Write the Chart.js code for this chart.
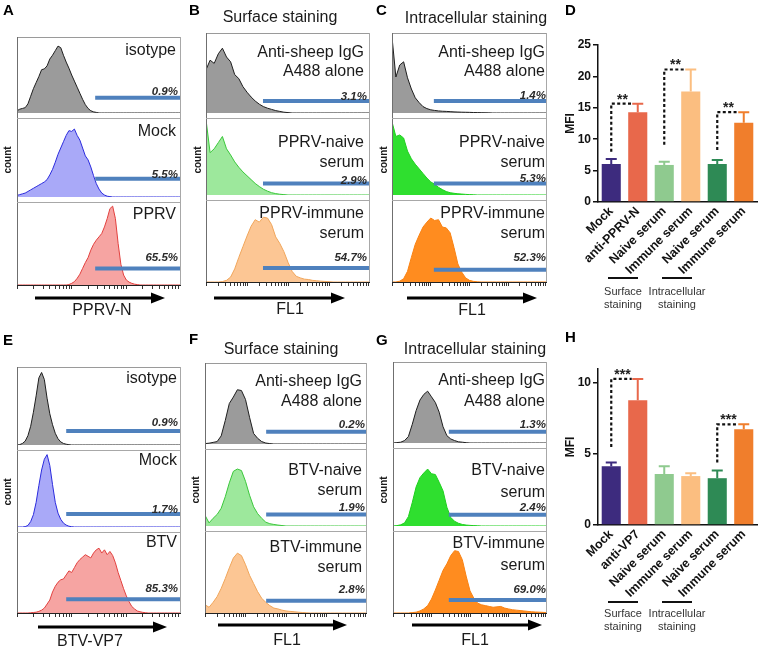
<!DOCTYPE html>
<html>
<head>
<meta charset="utf-8">
<title>Flow cytometry histograms and MFI</title>
<script src="https://cdn.jsdelivr.net/npm/chart.js@4.4.1/dist/chart.umd.min.js"></script>
<style>
html,body{margin:0;padding:0;background:#fff;}
body{width:767px;height:647px;position:relative;overflow:hidden;font-family:"Liberation Sans",Arial,Helvetica,sans-serif;color:#1b1b1b;}
canvas{position:absolute;display:block;}
.t{position:absolute;white-space:nowrap;line-height:1;}
.ln{position:absolute;}
svg{position:absolute;left:0;top:0;}
</style>
</head>
<body>
<svg id="arrows" width="767" height="647"></svg>
<script>
// ===================== DATA =====================
// histogram bin positions (in decades of fluorescence)
const binsA = [0,0.05,0.1,0.15,0.2,0.25,0.3,0.35,0.4,0.45,0.5,0.55,0.6,0.65,0.7,0.75,0.8,0.85,0.9,0.95,1,1.05,1.1,1.15,1.2,1.25,1.3,1.35,1.4,1.45,1.5,1.55,1.6,1.65,1.7,1.75,1.8,1.85,1.9,1.95,2,2.05,2.1,2.15,2.2,2.25,2.3,2.35,2.4,2.45,2.5,2.55,2.6,2.65,2.7,2.75,2.8,2.85,2.9,2.95,3];
const binsB = [0,0.1,0.2,0.3,0.4,0.5,0.6,0.7,0.8,0.9,1,1.1,1.2,1.3,1.4,1.5,1.6,1.7,1.8,1.9,2,2.1,2.2,2.3,2.4,2.5,2.6,2.7,2.8,2.9,3,3.1,3.2,3.3,3.4,3.5,3.6,3.7,3.8,3.9,4];

// relative counts (fraction of the sub-panel height)
const histA_isotype = [0.03,0.05,0.06,0.07,0.12,0.22,0.32,0.40,0.48,0.57,0.58,0.62,0.71,0.76,0.82,0.88,0.86,0.76,0.67,0.59,0.50,0.42,0.34,0.26,0.18,0.11,0.06,0.03,0.015,0.008,0,0,0,0,0,0,0,0,0,0,0,0,0,0,0,0,0,0,0,0,0,0,0,0,0,0,0,0,0,0,0];
const histA_mock = [0.02,0.03,0.04,0.05,0.07,0.09,0.11,0.13,0.15,0.17,0.19,0.22,0.28,0.35,0.44,0.54,0.62,0.70,0.78,0.84,0.83,0.86,0.78,0.72,0.62,0.52,0.47,0.38,0.27,0.17,0.10,0.05,0.025,0.01,0.005,0,0,0,0,0,0,0,0,0,0,0,0,0,0,0,0,0,0,0,0,0,0,0,0,0,0];
const histA_pprv = [0,0,0,0,0,0,0,0,0,0,0,0,0,0,0,0,0,0,0,0.005,0.02,0.04,0.08,0.13,0.20,0.27,0.33,0.42,0.49,0.54,0.58,0.62,0.70,0.80,0.92,0.95,0.80,0.50,0.25,0.12,0.06,0.035,0.02,0.01,0.005,0,0,0,0,0,0,0,0,0,0,0,0,0,0,0,0];
const histE_isotype = [0,0.005,0.02,0.05,0.12,0.24,0.42,0.63,0.86,0.93,0.84,0.60,0.40,0.26,0.15,0.08,0.04,0.02,0.01,0.004,0,0,0,0,0,0,0,0,0,0,0,0,0,0,0,0,0,0,0,0,0,0,0,0,0,0,0,0,0,0,0,0,0,0,0,0,0,0,0,0,0];
const histE_mock = [0,0,0,0.005,0.02,0.07,0.16,0.32,0.54,0.74,0.88,0.94,0.80,0.55,0.32,0.18,0.10,0.05,0.025,0.01,0.004,0,0,0,0,0,0,0,0,0,0,0,0,0,0,0,0,0,0,0,0,0,0,0,0,0,0,0,0,0,0,0,0,0,0,0,0,0,0,0,0];
const histE_btv = [0,0,0,0,0,0.003,0.006,0.01,0.02,0.035,0.06,0.11,0.16,0.26,0.33,0.38,0.41,0.42,0.47,0.52,0.50,0.56,0.62,0.66,0.69,0.72,0.70,0.68,0.74,0.78,0.80,0.74,0.78,0.72,0.76,0.71,0.62,0.50,0.40,0.30,0.21,0.14,0.08,0.05,0.025,0.015,0.008,0.004,0,0,0,0,0,0,0,0,0,0,0,0,0];

const histB_alone = [0.54,0.66,0.62,0.74,0.81,0.70,0.64,0.48,0.43,0.33,0.26,0.20,0.15,0.11,0.08,0.06,0.045,0.03,0.02,0.01,0.005,0,0,0,0,0,0,0,0,0,0,0,0,0,0,0,0,0,0,0,0];
const histB_naive = [0.98,0.55,0.60,0.68,0.76,0.60,0.52,0.43,0.36,0.30,0.25,0.20,0.15,0.11,0.075,0.05,0.03,0.018,0.01,0.005,0,0,0,0,0,0,0,0,0,0,0,0,0,0,0,0,0,0,0,0,0];
const histB_immune = [0,0,0,0,0.005,0.02,0.06,0.16,0.30,0.43,0.56,0.68,0.76,0.73,0.79,0.78,0.70,0.55,0.47,0.37,0.24,0.13,0.07,0.05,0.035,0.03,0.02,0.015,0.01,0.007,0.004,0,0,0,0,0,0,0,0,0,0];
const histC_alone = [0.95,0.45,0.60,0.64,0.44,0.30,0.19,0.13,0.08,0.055,0.04,0.032,0.026,0.022,0.02,0.017,0.014,0.012,0.01,0.009,0.008,0.006,0.005,0.004,0.003,0.002,0,0,0,0,0,0,0,0,0,0,0,0,0,0,0];
const histC_naive = [0.95,0.76,0.78,0.74,0.57,0.47,0.40,0.34,0.28,0.22,0.17,0.14,0.10,0.07,0.045,0.03,0.022,0.016,0.012,0.008,0.005,0.003,0,0,0,0,0,0,0,0,0,0,0,0,0,0,0,0,0,0,0];
const histC_immune = [0,0,0.01,0.04,0.13,0.30,0.46,0.57,0.67,0.73,0.78,0.75,0.76,0.67,0.66,0.60,0.42,0.22,0.12,0.05,0.02,0.008,0.003,0,0,0,0,0,0,0,0,0,0,0,0,0,0,0,0,0,0];
const histF_alone = [0.005,0.01,0.02,0.03,0.10,0.29,0.50,0.58,0.67,0.66,0.55,0.33,0.13,0.07,0.03,0.012,0.005,0,0,0,0,0,0,0,0,0,0,0,0,0,0,0,0,0,0,0,0,0,0,0,0];
const histF_naive = [0.14,0.04,0.10,0.15,0.23,0.38,0.56,0.71,0.74,0.72,0.58,0.40,0.25,0.16,0.10,0.05,0.03,0.02,0.012,0.006,0,0,0,0,0,0,0,0,0,0,0,0,0,0,0,0,0,0,0,0,0];
const histF_immune = [0.10,0.07,0.13,0.20,0.30,0.42,0.55,0.67,0.73,0.70,0.59,0.46,0.36,0.26,0.18,0.13,0.09,0.06,0.05,0.035,0.025,0.02,0.015,0.01,0.006,0.003,0,0,0,0,0,0,0,0,0,0,0,0,0,0,0];
const histG_alone = [0,0.005,0.01,0.03,0.08,0.23,0.40,0.53,0.60,0.64,0.57,0.50,0.38,0.20,0.09,0.05,0.03,0.015,0.01,0.004,0,0,0,0,0,0,0,0,0,0,0,0,0,0,0,0,0,0,0,0,0];
const histG_naive = [0,0.005,0.015,0.04,0.12,0.30,0.50,0.62,0.68,0.73,0.67,0.66,0.56,0.45,0.24,0.11,0.06,0.035,0.02,0.012,0.008,0.005,0.003,0,0,0,0,0,0,0,0,0,0,0,0,0,0,0,0,0,0];
const histG_immune = [0,0,0,0,0,0.005,0.01,0.025,0.05,0.09,0.17,0.28,0.40,0.52,0.60,0.70,0.76,0.75,0.65,0.45,0.27,0.18,0.12,0.10,0.09,0.08,0.07,0.075,0.08,0.06,0.05,0.04,0.035,0.03,0.025,0.02,0.015,0.012,0.01,0.008,0.005];

// sample names, gate percentages, gate start (decades) and gate level
const samplesA = ['isotype', 'Mock', 'PPRV'];
const samplesB = ['Anti-sheep IgG\nA488 alone', 'PPRV-naive\nserum', 'PPRV-immune\nserum'];
const samplesE = ['isotype', 'Mock', 'BTV'];
const samplesF = ['Anti-sheep IgG\nA488 alone', 'BTV-naive\nserum', 'BTV-immune\nserum'];
const pctA = ['0.9%', '5.5%', '65.5%'];
const pctB = ['3.1%', '2.9%', '54.7%'];
const pctC = ['1.4%', '5.3%', '52.3%'];
const pctE = ['0.9%', '1.7%', '85.3%'];
const pctF = ['0.2%', '1.9%', '2.8%'];
const pctG = ['1.3%', '2.4%', '69.0%'];
const gateStart = {A: 1.43, B: 1.39, C: 1.08, E: 0.90, F: 1.51, G: 1.45};
const gateLevelA = [0.20, 0.23, 0.20];
const gateLevelB = [0.15, 0.15, 0.17];
const gateLevelC = [0.15, 0.15, 0.15];
const gateLevelE = [0.18, 0.17, 0.17];
const gateLevelF = [0.15, 0.15, 0.15];
const gateLevelG = [0.14, 0.145, 0.16];

// MFI bar charts
const barLabelsD = ['Mock', 'anti-PPRV-N', 'Naive serum', 'Immune serum', 'Naive serum', 'Immune serum'];
const mfiD = [6.05, 14.3, 5.9, 17.6, 6.05, 12.6];
const errD = [0.8, 1.35, 0.5, 3.5, 0.65, 1.7];
const sigFromD = [0, 2, 4];
const sigToD = [1, 3, 5];
const sigLowD = [8.0, 9.1, 8.3];
const sigHighD = [15.65, 21.1, 14.3];
const sigTextD = ['**', '**', '**'];

const barLabelsH = ['Mock', 'anti-VP7', 'Naive serum', 'Immune serum', 'Naive serum', 'Immune serum'];
const mfiH = [4.15, 8.8, 3.6, 3.45, 3.3, 6.75];
const errH = [0.25, 1.5, 0.55, 0.2, 0.55, 0.35];
const sigFromH = [0, 4];
const sigToH = [1, 5];
const sigLowH = [5.5, 4.4];
const sigHighH = [10.3, 7.1];
const sigTextH = ['***', '***'];

const yTicksMaxD = 25;
const yTicksMaxH = 11;

// ===================== STYLE =====================
const FONT = '"Liberation Sans", Arial, Helvetica, sans-serif';
Chart.defaults.font.family = FONT;
const GATE = '#4f81bd';
const C_GREY = ['rgba(155,155,155,1)', '#1e1e1e'];
const C_BLUE = ['#a9a9f8', '#2b2bdd'];
const C_RED = ['#f6a4a2', '#e2403e'];
const C_LGREEN = ['#9de89c', '#3ac73a'];
const C_LORANGE = ['#fcc694', '#f0a55a'];
const C_GREEN = ['#2fdf2f', '#1fcf1f'];
const C_ORANGE = ['#ff8c1f', '#f98213'];
const BAR_COLORS = ['#3d2b7e', '#e8684b', '#8fca8f', '#fbbe80', '#2e8a55', '#f07e2c'];

// ===================== HELPERS =====================
function txt(s, x, y, o = {}) {
  const d = document.createElement('div');
  d.className = 't';
  d.textContent = s;
  const st = d.style;
  st.left = x + 'px';
  st.top = y + 'px';
  st.fontSize = (o.size || 16) + 'px';
  if (o.bold) st.fontWeight = 'bold';
  if (o.italic) st.fontStyle = 'italic';
  st.color = o.color || '#1b1b1b';
  const tx = o.align === 'right' ? '-100%' : (o.align === 'left' ? '0' : '-50%');
  st.transform = 'translate(' + tx + ',-50%)' + (o.rot ? ' rotate(' + o.rot + 'deg)' : '');
  document.body.appendChild(d);
}
function rect(x, y, w, h, color) {
  const d = document.createElement('div');
  d.className = 'ln';
  d.style.left = x + 'px'; d.style.top = y + 'px';
  d.style.width = w + 'px'; d.style.height = h + 'px';
  d.style.background = color;
  document.body.appendChild(d);
}
function canvas(x, y, w, h) {
  const c = document.createElement('canvas');
  c.width = w; c.height = h;
  c.style.left = x + 'px'; c.style.top = y + 'px';
  c.style.width = w + 'px'; c.style.height = h + 'px';
  document.body.appendChild(c);
  return c;
}
function arrow(x1, x2, y) {
  const svg = document.getElementById('arrows');
  const ns = 'http://www.w3.org/2000/svg';
  const l = document.createElementNS(ns, 'line');
  l.setAttribute('x1', x1); l.setAttribute('x2', x2 - 11);
  l.setAttribute('y1', y); l.setAttribute('y2', y);
  l.setAttribute('stroke', '#000'); l.setAttribute('stroke-width', '3');
  svg.appendChild(l);
  const p = document.createElementNS(ns, 'polygon');
  p.setAttribute('points', x2 + ',' + y + ' ' + (x2 - 14) + ',' + (y - 5.5) + ' ' + (x2 - 14) + ',' + (y + 5.5));
  p.setAttribute('fill', '#000');
  svg.appendChild(p);
}
function logTicks(dec) {
  const out = [];
  for (let d = 0; d < dec; d++) for (let k = 1; k <= 9; k++) out.push({value: d + Math.log10(k)});
  out.push({value: dec});
  return out;
}

function histChart(el, bins, counts, gx, gy, dec, col, withAxis) {
  return new Chart(el, {
    type: 'line',
    data: {
      datasets: [
        {data: [{x: gx, y: gy}, {x: dec, y: gy}], borderColor: GATE, borderWidth: 4, pointRadius: 0, fill: false, borderCapStyle: 'butt'},
        {data: bins.map((b, i) => ({x: b, y: counts[i]})), borderColor: col[1], backgroundColor: col[0], borderWidth: 1, pointRadius: 0, fill: 'origin', tension: 0}
      ]
    },
    options: {
      responsive: false, animation: false, events: [],
      layout: {padding: 0},
      plugins: {legend: {display: false}, tooltip: {enabled: false}},
      scales: {
        x: {
          type: 'linear', min: 0, max: dec, display: withAxis,
          afterBuildTicks: s => { s.ticks = logTicks(dec); },
          afterFit: s => { s.height = 5; },
          ticks: {display: false, autoSkip: false},
          grid: {drawOnChartArea: false, drawTicks: true, tickLength: 4, color: '#333', lineWidth: 1},
          border: {display: true, color: '#222', width: 1}
        },
        y: {min: 0, max: 1, display: false}
      }
    }
  });
}

// ===================== HISTOGRAM PANELS =====================
const panels = [
  {L: 'A', x0: 17, x1: 181, ys: [37, 118, 202, 285], bins: binsA, dec: 3,
   hists: [histA_isotype, histA_mock, histA_pprv], cols: [C_GREY, C_BLUE, C_RED],
   gx: gateStart.A, gy: gateLevelA, names: samplesA, pct: pctA,
   nameR: 176, pctR: 178, nameY: [[50], [131], [214]], pctY: [92, 175, 258],
   axis: 'PPRV-N', axX: 102, axY: 310, ar: [35, 165, 298], cnt: [8, 160], title: null, let: [3, 9]},
  {L: 'B', x0: 206, x1: 370, ys: [33, 118, 200, 282], bins: binsB, dec: 4,
   hists: [histB_alone, histB_naive, histB_immune], cols: [C_GREY, C_LGREEN, C_LORANGE],
   gx: gateStart.B, gy: gateLevelB, names: samplesB, pct: pctB,
   nameR: 364, pctR: 367, nameY: [[52, 71], [142, 162], [213, 233]], pctY: [97, 181, 258],
   axis: 'FL1', axX: 290, axY: 309, ar: [214, 345, 298], cnt: [198, 160], title: ['Surface staining', 280, 17], let: [189, 9]},
  {L: 'C', x0: 392, x1: 547, ys: [33, 118, 200, 282], bins: binsB, dec: 4,
   hists: [histC_alone, histC_naive, histC_immune], cols: [C_GREY, C_GREEN, C_ORANGE],
   gx: gateStart.C, gy: gateLevelC, names: samplesB, pct: pctC,
   nameR: 545, pctR: 546, nameY: [[52, 71], [142, 162], [213, 233]], pctY: [96, 179, 258],
   axis: 'FL1', axX: 472, axY: 310, ar: [407, 537, 298], cnt: [384, 160], title: ['Intracellular staining', 476, 18], let: [376, 9]},
  {L: 'E', x0: 17, x1: 181, ys: [367, 450, 532, 613], bins: binsA, dec: 3,
   hists: [histE_isotype, histE_mock, histE_btv], cols: [C_GREY, C_BLUE, C_RED],
   gx: gateStart.E, gy: gateLevelE, names: samplesE, pct: pctE,
   nameR: 177, pctR: 178, nameY: [[378], [460], [542]], pctY: [423, 510, 589],
   axis: 'BTV-VP7', axX: 90, axY: 641, ar: [38, 167, 627], cnt: [8, 492], title: null, let: [3, 339]},
  {L: 'F', x0: 205, x1: 367, ys: [363, 449, 531, 613], bins: binsB, dec: 4,
   hists: [histF_alone, histF_naive, histF_immune], cols: [C_GREY, C_LGREEN, C_LORANGE],
   gx: gateStart.F, gy: gateLevelF, names: samplesF, pct: pctF,
   nameR: 362, pctR: 365, nameY: [[381, 401], [470, 490], [547, 567]], pctY: [425, 508, 590],
   axis: 'FL1', axX: 287, axY: 640, ar: [218, 347, 625], cnt: [196, 490], title: ['Surface staining', 281, 349], let: [189, 338]},
  {L: 'G', x0: 393, x1: 547, ys: [362, 448, 531, 613], bins: binsB, dec: 4,
   hists: [histG_alone, histG_naive, histG_immune], cols: [C_GREY, C_GREEN, C_ORANGE],
   gx: gateStart.G, gy: gateLevelG, names: samplesF, pct: pctG,
   nameR: 545, pctR: 546, nameY: [[380, 401], [470, 492], [543, 565]], pctY: [425, 508, 590],
   axis: 'FL1', axX: 475, axY: 640, ar: [412, 542, 625], cnt: [384, 490], title: ['Intracellular staining', 475, 349], let: [376, 339]}
];

panels.forEach(p => {
  const w = p.x1 - p.x0;
  for (let i = 0; i < 3; i++) {
    const top = p.ys[i], h = p.ys[i + 1] - p.ys[i];
    const bottom = i === 2;
    const c = canvas(p.x0, top, w, h + (bottom ? 5 : 0));
    histChart(c, p.bins, p.hists[i], p.gx, p.gy[i], p.dec, p.cols[i], bottom);
  }
  // box borders
  rect(p.x0, p.ys[0], w, 1, '#9a9a9a');
  rect(p.x0, p.ys[0], 1, p.ys[3] - p.ys[0], '#6f6f6f');
  rect(p.x1 - 1, p.ys[0], 1, p.ys[3] - p.ys[0], '#a8a8a8');
  rect(p.x0, p.ys[1], w, 1, '#a8a8a8');
  rect(p.x0, p.ys[2], w, 1, '#a8a8a8');
  // sample names and percentages
  for (let i = 0; i < 3; i++) {
    const lines = p.names[i].split('\n');
    lines.forEach((s, k) => txt(s, p.nameR, p.nameY[i][k], {align: 'right', size: 16}));
    txt(p.pct[i], p.pctR, p.pctY[i], {align: 'right', size: 11.5, bold: true, italic: true, color: '#2a2a2a'});
  }
  txt('count', p.cnt[0], p.cnt[1], {size: 10, bold: true, rot: -90});
  txt(p.axis, p.axX, p.axY, {size: 16});
  arrow(p.ar[0], p.ar[1], p.ar[2]);
  if (p.title) txt(p.title[0], p.title[1], p.title[2], {size: 16});
  txt(p.L, p.let[0], p.let[1], {align: 'left', size: 15, bold: true, color: '#000'});
});

// ===================== BAR CHARTS =====================
function errSigPlugin(vals, errs, from, to, low, high, label) {
  return {
    id: 'errsig',
    afterDatasetsDraw(chart) {
      const ctx = chart.ctx, meta = chart.getDatasetMeta(0), y = chart.scales.y;
      ctx.save();
      meta.data.forEach((bar, i) => {
        const top = y.getPixelForValue(vals[i] + errs[i]);
        ctx.strokeStyle = BAR_COLORS[i];
        ctx.lineWidth = 2;
        ctx.beginPath();
        ctx.moveTo(bar.x, bar.y);
        ctx.lineTo(bar.x, top);
        ctx.moveTo(bar.x - 5.5, top);
        ctx.lineTo(bar.x + 5.5, top);
        ctx.stroke();
      });
      from.forEach((f, k) => {
        const x0 = meta.data[f].x, x1 = meta.data[to[k]].x - 6;
        const yl = y.getPixelForValue(low[k]), yh = y.getPixelForValue(high[k]);
        ctx.strokeStyle = '#111';
        ctx.lineWidth = 2.2;
        ctx.setLineDash([3, 2.4]);
        ctx.beginPath();
        ctx.moveTo(x0, yl);
        ctx.lineTo(x0, yh);
        ctx.lineTo(x1, yh);
        ctx.stroke();
        ctx.setLineDash([]);
        ctx.fillStyle = '#222';
        ctx.font = 'bold 14px ' + FONT;
        ctx.textAlign = 'center';
        ctx.textBaseline = 'alphabetic';
        ctx.fillText(label[k], (x0 + x1) / 2 + 1, yh + 0);
      });
      ctx.restore();
    }
  };
}

function barChart(el, labels, vals, errs, maxY, padTop, xh, sig) {
  return new Chart(el, {
    type: 'bar',
    data: {labels: labels, datasets: [{data: vals, backgroundColor: BAR_COLORS, borderWidth: 0, barPercentage: 0.72, categoryPercentage: 1}]},
    options: {
      responsive: false, animation: false, events: [],
      layout: {padding: {top: padTop, right: 10, left: 0, bottom: 0}},
      plugins: {legend: {display: false}, tooltip: {enabled: false}},
      scales: {
        x: {
          grid: {drawOnChartArea: false, drawTicks: false},
          border: {display: true, color: '#111', width: 1.5},
          ticks: {maxRotation: 45, minRotation: 45, autoSkip: false, padding: 2, color: '#111', font: {size: 12.5, weight: 'bold'}},
          afterFit: s => { s.height = xh; }
        },
        y: {
          min: 0, max: maxY,
          ticks: {stepSize: 5, includeBounds: false, color: '#111', padding: 2, font: {size: 12, weight: 'bold'}},
          grid: {drawOnChartArea: false, drawTicks: true, tickLength: 5, color: '#111', lineWidth: 1.5},
          border: {display: true, color: '#111', width: 1.5},
          title: {display: true, text: 'MFI', color: '#111', font: {size: 12, weight: 'bold'}, padding: {top: 5, bottom: 0}},
          afterFit: s => { s.width = 40; }
        }
      }
    },
    plugins: [errSigPlugin(vals, errs, sig[0], sig[1], sig[2], sig[3], sig[4])]
  });
}

barChart(canvas(558, 25, 209, 262), barLabelsD, mfiD, errD, yTicksMaxD, 20, 85, [sigFromD, sigToD, sigLowD, sigHighD, sigTextD]);
barChart(canvas(558, 345, 209, 262), barLabelsH, mfiH, errH, yTicksMaxH, 24, 82, [sigFromH, sigToH, sigLowH, sigHighH, sigTextH]);

// group annotations under bar charts
[[277, 291, 304], [601, 613, 626]].forEach(r => {
  rect(608, r[0], 30, 1.5, '#111');
  rect(662, r[0], 30, 1.5, '#111');
  txt('Surface', 623, r[1], {size: 11, color: '#333'});
  txt('staining', 623, r[2], {size: 11, color: '#333'});
  txt('Intracellular', 677, r[1], {size: 11, color: '#333'});
  txt('staining', 677, r[2], {size: 11, color: '#333'});
});
txt('D', 565, 9, {align: 'left', size: 15, bold: true, color: '#000'});
txt('H', 565, 336, {align: 'left', size: 15, bold: true, color: '#000'});
</script>
</body>
</html>
